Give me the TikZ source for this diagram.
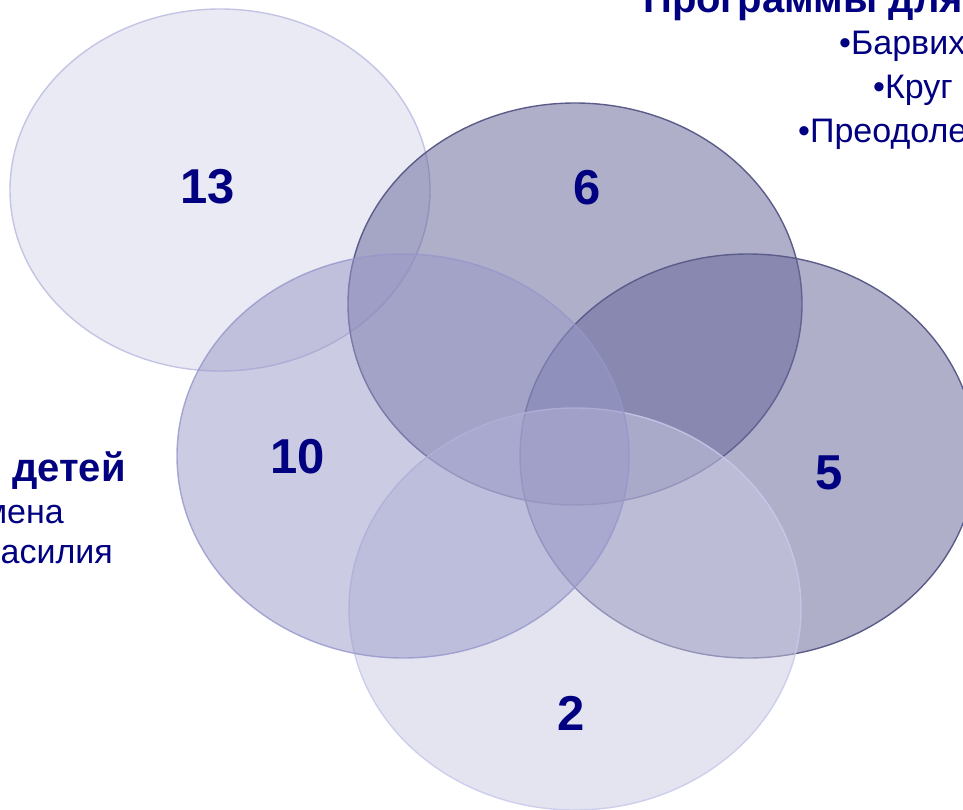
\documentclass[tikz,border=0pt]{standalone}
\usepackage{fontspec}
\setmainfont{Liberation Sans}
\definecolor{navy}{RGB}{0,0,128}
\definecolor{fillA}{RGB}{234,234,244}
\definecolor{fillBD}{RGB}{102,102,154}
\definecolor{fillC}{RGB}{152,152,200}
\definecolor{fillE}{RGB}{202,202,229}
\definecolor{edgeA}{RGB}{196,196,228}
\definecolor{edgeB}{RGB}{92,92,138}
\definecolor{edgeC}{RGB}{150,150,204}
\definecolor{edgeE}{RGB}{200,200,236}
\tikzset{
  blob/.style={line width=1.4pt},
  num/.style={text=navy,font=\bfseries\fontsize{49}{49}\selectfont,inner sep=0pt},
  head/.style={text=navy,font=\bfseries\fontsize{40}{40}\selectfont,inner sep=0pt},
  item/.style={text=navy,font=\fontsize{34}{34}\selectfont,inner sep=0pt},
}
\begin{document}
\begin{tikzpicture}[x=1pt,y=-1pt]
\useasboundingbox (0,0) rectangle (963,810);
\clip (0,0) rectangle (963,810);
\fill[white] (0,0) rectangle (963,810);
% ellipses (drawing order matters for the blending)
\draw[blob,fill=fillA,draw=edgeA] (220,190) ellipse [x radius=210,y radius=181];
\draw[blob,fill=fillBD,fill opacity=0.52,draw=edgeB] (575,304) ellipse [x radius=227,y radius=201];
\draw[blob,fill=fillBD,fill opacity=0.52,draw=edgeB] (748,456) ellipse [x radius=228,y radius=202];
\draw[blob,fill=fillE,fill opacity=0.5,draw=edgeE,draw opacity=0.85] (575,609) ellipse [x radius=226,y radius=201];
\draw[blob,fill=fillC,fill opacity=0.5,draw=edgeC,draw opacity=0.8] (403,456) ellipse [x radius=226,y radius=202];
% numbers
\node[num] (n13) at (208,187) {13};
\node[num] (n6) at (587,188) {6};
\node[num] (n10) at (298,457) {10};
\node[num] (n5) at (829,473) {5};
\node[num] (n2) at (571,713) {2};
% right text
\node[head,anchor=base east] (rt) at (963,13) {Программы для};
\node[item,anchor=base west] (r1) at (839,55) {•Барвих};
\node[item,anchor=base west] (r2) at (873,99) {•Круг};
\node[item,anchor=base west] (r3) at (798,143) {•Преодоле};
% left text
\node[head,anchor=base east] (lt) at (126,481) {детей};
\node[item,anchor=base east] (l1) at (64,523) {мена};
\node[item,anchor=base east] (l2) at (113,563) {асилия};
\end{tikzpicture}
\end{document}
